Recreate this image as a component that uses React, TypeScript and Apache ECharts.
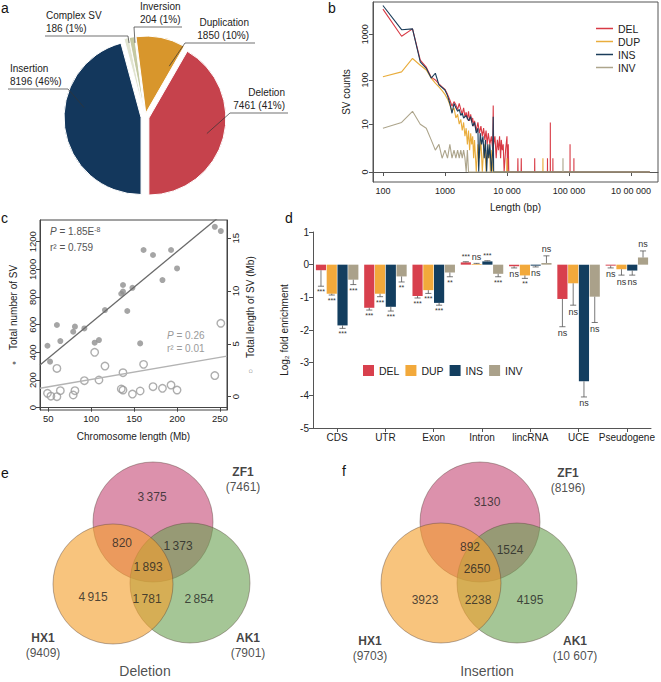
import React, { useEffect, useRef } from 'react';
import * as echarts from 'echarts';

const FONT = 'Liberation Sans, Arial, Helvetica, sans-serif';

// ---------------- a: pie ----------------
const pieNames = ['Insertion', 'Complex SV', 'Inversion', 'Duplication', 'Deletion'];
const pieValues = [8196, 186, 204, 1850, 7461];
const piePercents = ['46%', '1%', '1%', '10%', '41%'];
const pieColors = ['#13375c', '#e1e4d0', '#c4c9a2', '#d8962c', '#c6424c'];

// ---------------- b: length distribution ----------------
const svTypes = ['DEL', 'DUP', 'INS', 'INV'];
const lengthTicks = [100, 1000, 10000, 100000, 1000000];
const lengthTickLabels = ['100', '1000', '10 000', '100 000', '10 00 000'];
const countTicks = [0, 10, 100, 1000];

const delLengthCounts: [number, number][] = [
  [100, 3500], [200, 900], [300, 1300], [400, 270], [500, 190], [600, 115], [700, 100], [800, 82], [900, 70],
  [1000, 62], [1100, 48], [1200, 36], [1300, 26], [1400, 33], [1500, 28], [1600, 22], [1700, 30], [1800, 22],
  [1900, 17], [2000, 24], [2100, 15], [2200, 19], [2300, 13], [2400, 20], [2500, 12], [2600, 17], [2700, 11],
  [2800, 14], [2900, 9], [3000, 12], [3200, 7], [3400, 11], [3600, 6], [3800, 9], [4000, 5], [4200, 8],
  [4400, 4], [4600, 7], [4800, 3], [5000, 6], [5300, 3], [5600, 5], [5900, 2], [6000, 27], [6100, 3],
  [6400, 5], [6700, 1], [7000, 4], [7300, 2], [7600, 5], [7900, 1], [8100, 4], [8400, 2], [8700, 3],
  [9000, 0], [9500, 2], [10000, 5], [10200, 0], [10500, 3], [10700, 0], [14900, 0], [15000, 1], [15100, 0],
  [16900, 0], [17000, 1], [17100, 0], [27900, 0], [28000, 1], [28100, 0], [44900, 0], [45000, 1], [45100, 0],
  [49900, 0], [50000, 11], [50100, 0], [54900, 0], [55000, 1], [55100, 0], [103900, 0], [104000, 3],
  [104100, 0], [119900, 0], [120000, 1], [120100, 0], [2000000, 0],
];
const dupLengthCounts: [number, number][] = [
  [100, 117], [200, 150], [300, 295], [400, 210], [500, 165], [600, 110], [700, 85], [800, 70], [900, 58],
  [1000, 48], [1100, 38], [1200, 28], [1300, 20], [1400, 24], [1500, 14], [1600, 17], [1700, 10], [1800, 13],
  [1900, 7], [2000, 11], [2100, 5], [2200, 8], [2300, 3], [2400, 7], [2500, 2], [2600, 6], [2700, 3],
  [2800, 5], [2900, 1], [3000, 4], [3200, 0], [3400, 3], [3600, 1], [3800, 4], [4000, 0], [4200, 2],
  [4400, 3], [4600, 0], [4800, 2], [5000, 1], [5200, 3], [5400, 0], [5700, 2], [5900, 0], [9900, 0],
  [10000, 1], [10100, 0], [37900, 0], [38000, 1], [38100, 0], [2000000, 0],
];
const insLengthCounts: [number, number][] = [
  [100, 4200], [200, 1250], [300, 1300], [400, 250], [500, 180], [600, 110], [700, 140], [800, 78], [900, 68],
  [1000, 60], [1100, 45], [1200, 30], [1300, 18], [1400, 30], [1500, 24], [1600, 20], [1700, 22], [1800, 16],
  [1900, 18], [2000, 14], [2200, 16], [2400, 12], [2600, 15], [2800, 9], [3000, 11], [3200, 6], [3400, 8],
  [3500, 0], [3700, 6], [3900, 3], [4100, 5], [4300, 1], [4500, 4], [4700, 0], [4900, 3], [5100, 1],
  [5300, 3], [5600, 0], [5900, 2], [6000, 15], [6100, 0], [2000000, 0],
];
const invLengthCounts: [number, number][] = [
  [100, 8], [200, 11], [300, 20], [400, 10], [500, 8], [600, 4], [700, 2], [800, 3], [900, 1], [1000, 2],
  [1100, 1], [1200, 3], [1300, 1], [1400, 2], [1500, 1], [1600, 2], [1700, 1], [1800, 2], [1900, 1],
  [2000, 2], [2100, 1], [2200, 0], [2300, 2], [2400, 0], [79900, 0], [80000, 1], [80100, 0], [2000000, 0],
];
const lineColors = ['#d83a45', '#e9ad3d', '#1b3d5a', '#ada58c'];

// ---------------- c: scatter ----------------
const chrLengthA = [49, 52, 60, 64, 79, 81, 92, 104, 109, 116, 135, 137, 137, 142, 148, 157, 161, 172, 183, 193, 200, 244, 251];
const svNumber = [448, 333, 598, 482, 549, 586, 573, 470, 489, 706, 824, 887, 839, 699, 867, 465, 1140, 1104, 923, 1140, 1007, 1308, 1277];
const chrLengthB = [49, 53, 60, 60, 64, 79, 81, 92, 104, 109, 116, 135, 137, 137, 148, 157, 161, 172, 183, 193, 200, 244, 251];
const svTotalLength = [0.32, 0.05, 0.0, 2.68, 0.57, 0.16, 0.57, 1.52, 4.2, 1.58, 2.9, 0.73, 2.27, 0.63, 0.25, 0.54, 3.06, 0.95, 0.79, 1.1, 0.63, 2.0, 6.95];
const fitNumber = [[40.3, 309], [258.2, 1427]];
const fitLength = [[40.3, 0.8], [258.2, 3.85]];
const cXTicks = [50, 100, 150, 200, 250];
const cYTicks = [0, 200, 400, 600, 800, 1000, 1200];
const cY2Ticks = [0, 5, 10, 15];

// ---------------- d: enrichment ----------------
const features = ['CDS', 'UTR', 'Exon', 'Intron', 'lincRNA', 'UCE', 'Pseudogene'];
const enrichDEL = [-0.17, -1.32, -0.96, 0.07, -0.05, -1.05, -0.03];
const enrichDUP = [-0.89, -0.89, -0.78, 0.02, -0.33, -0.57, -0.14];
const enrichINS = [-1.86, -1.29, -1.17, 0.1, -0.03, -3.57, -0.18];
const enrichINV = [-0.46, -0.36, -0.24, -0.28, 0.05, -0.98, 0.22];
const errDEL = [0.49, 0.07, 0.06, 0.02, 0.05, 0.85, 0.07];
const errDUP = [0.04, 0.09, 0.1, 0.02, 0.09, 0.67, 0.18];
const errINS = [0.09, 0.13, 0.07, 0.02, 0.04, 0.48, 0.14];
const errINV = [0.15, 0.17, 0.13, 0.09, 0.22, 0.79, 0.2];
const sigDEL = ['***', '***', '***', '***', 'ns', 'ns', 'ns'];
const sigDUP = ['***', '***', '***', 'ns', '**', 'ns', 'ns'];
const sigINS = ['***', '***', '***', '***', 'ns', 'ns', 'ns'];
const sigINV = ['***', '**', '**', '***', 'ns', 'ns', 'ns'];
const barColors = ['#d8404d', '#f2a93b', '#133e5f', '#aaa18a'];

// ---------------- e/f: Venn ----------------
const vennSets = ['ZF1', 'HX1', 'AK1'];
const deletionRegions = [3375, 820, 1373, 1893, 4915, 1781, 2854];
const deletionTotals = [7461, 9409, 7901];
const insertionRegions = [3130, 892, 1524, 2650, 3923, 2238, 4195];
const insertionTotals = [8196, 9703, 10607];

// ---------------- layout (not data) ----------------
const PIE = { cx: 145, cy: 117, r: 77, explode: 4 };
// af: where along the slice the leader starts (fraction of its angle); rf: fraction of radius
const PIE_LABELS = [
  { x: 10, align: 'left', lineY: 89, bend: 68, end: 8, rf: 0.75, af: 0.6 },
  { x: 46, align: 'left', lineY: 36, bend: 128, end: 45, rf: 0.93, af: 0.8 },
  { x: 140, align: 'left', lineY: 27, bend: 134, end: 182, rf: 0.92, af: 0.9 },
  { x: 249, align: 'right', lineY: 43, bend: 185, end: 255, rf: 0.68, af: 0.88 },
  { x: 285, align: 'right', lineY: 113, bend: 230, end: 288, rf: 0.78, af: 0.5 },
];
const VENN_COLORS = ['rgba(196,72,117,0.6)', 'rgba(243,160,45,0.62)', 'rgba(105,160,80,0.6)'];
const VENN_DRAW_ORDER = [0, 2, 1];
const VENN_E = {
  circles: [[153, 522], [113, 584], [190, 583]],
  regions: [[152, 497], [122, 543], [178, 546], [148, 567], [93, 597], [147, 599], [199, 599]],
  setLabels: [[243, 479], [43, 645], [248, 645]],
  title: [145, 671],
};
const VENN_F = {
  circles: [[480, 522], [441, 583], [517, 583]],
  regions: [[487, 502], [470, 547], [510, 550], [477, 569], [425, 600], [478, 600], [530, 600]],
  setLabels: [[568, 480], [370, 648], [575, 648]],
  title: [487, 671],
};
const VENN_R = 60;

const thinGroup = (n: number) => (n >= 1000 ? String(n).replace(/\B(?=(\d{3})+(?!\d))/g, '\u2009') : String(n));
const totalFmt = (n: number) => (n >= 10000 ? String(n).replace(/\B(?=(\d{3})+(?!\d))/g, ' ') : String(n));

function buildOption() {
  const total = pieValues.reduce((a, b) => a + b, 0);
  const startAngles: number[] = [];
  const spans: number[] = [];
  let acc = 0;
  pieValues.forEach((v) => {
    startAngles.push(180 + (360 * acc) / total);
    spans.push((360 * v) / total);
    acc += v;
  });
  const innerPt = (i: number, rf: number, af: number) => {
    const a = ((startAngles[i] + spans[i] * af) * Math.PI) / 180;
    const r = PIE.r * rf + PIE.explode;
    return [PIE.cx + r * Math.sin(a), PIE.cy - r * Math.cos(a)];
  };

  const bData = [delLengthCounts, dupLengthCounts, insLengthCounts, invLengthCounts];
  const dVals = [enrichDEL, enrichDUP, enrichINS, enrichINV];
  const dErr = [errDEL, errDUP, errINS, errINV];
  const dSig = [sigDEL, sigDUP, sigINS, sigINV];

  const axisColor = '#444';
  const tickLbl = { color: '#222', fontSize: 9.5, fontFamily: FONT };

  const makeErr = (k: number) => (params: any, api: any) => {
    const ci = api.value(0);
    const v = api.value(1);
    const e = api.value(2);
    const catW = api.size([1, 0])[0];
    const barW = (catW * (1 - 0.12)) / (4 + 3 * 0.06);
    const x = api.coord([ci, 0])[0] + (k - 1.5) * barW * 1.06;
    const dir = v >= 0 ? 1 : -1;
    const y1 = api.coord([ci, v])[1];
    const y2 = api.coord([ci, v + dir * e])[1];
    const lab = dSig[k][ci];
    const cap = barW * 0.3;
    return {
      type: 'group',
      children: [
        { type: 'line', shape: { x1: x, y1, x2: x, y2 }, style: { stroke: '#555', lineWidth: 0.8 } },
        { type: 'line', shape: { x1: x - cap, y1: y2, x2: x + cap, y2 }, style: { stroke: '#555', lineWidth: 0.8 } },
        {
          type: 'text',
          x,
          y: y2 + dir * -2,
          style: {
            text: lab,
            fontSize: lab === 'ns' ? 9 : 7,
            fontFamily: FONT,
            fill: '#333',
            align: 'center',
            verticalAlign: dir < 0 ? 'top' : 'bottom',
          },
        },
      ],
    };
  };

  const vennSeries = (V: any, regions: number[], totals: number[], fmt: (n: number) => string, title: string) => {
    const s: any[] = [];
    VENN_DRAW_ORDER.forEach((ci) => {
      s.push({
        type: 'scatter',
        xAxisIndex: 3,
        yAxisIndex: 4,
        silent: true,
        symbol: 'circle',
        symbolSize: VENN_R * 2,
        data: [V.circles[ci]],
        itemStyle: { color: VENN_COLORS[ci], borderColor: 'rgba(90,70,60,0.55)', borderWidth: 0.8, opacity: 1 },
        z: 2,
      });
    });
    s.push({
      type: 'scatter',
      xAxisIndex: 3,
      yAxisIndex: 4,
      silent: true,
      symbolSize: 0,
      data: V.regions.map((p: number[], i: number) => ({ value: p, label: { formatter: fmt(regions[i]) } })),
      label: { show: true, position: 'inside', fontSize: 12, color: '#222', fontFamily: FONT },
      z: 5,
    });
    s.push({
      type: 'scatter',
      xAxisIndex: 3,
      yAxisIndex: 4,
      silent: true,
      symbolSize: 0,
      data: V.setLabels.map((p: number[], i: number) => ({
        value: p,
        label: { formatter: `{n|${vennSets[i]}}\n{t|(${totalFmt(totals[i])})}` },
      })),
      label: {
        show: true,
        position: 'inside',
        align: 'center',
        rich: {
          n: { fontSize: 12, fontWeight: 'bold', color: '#111', fontFamily: FONT, lineHeight: 15, align: 'center' },
          t: { fontSize: 12, color: '#222', fontFamily: FONT, lineHeight: 15, align: 'center' },
        },
      },
      z: 5,
    });
    s.push({
      type: 'scatter',
      xAxisIndex: 3,
      yAxisIndex: 4,
      silent: true,
      symbolSize: 0,
      data: [{ value: V.title, label: { formatter: title } }],
      label: { show: true, position: 'inside', fontSize: 14, color: '#222', fontFamily: FONT },
      z: 5,
    });
    return s;
  };

  const letter = (t: string, x: number, y: number) => ({
    type: 'text',
    x,
    y,
    style: { text: t, fontSize: 14, fontFamily: FONT, fill: '#111', align: 'left', verticalAlign: 'middle' },
  });

  const pieLabelGraphics: any[] = [];
  pieNames.forEach((n, i) => {
    const L = PIE_LABELS[i];
    pieLabelGraphics.push({
      type: 'polyline',
      silent: true,
      z: 10,
      shape: { points: [innerPt(i, L.rf, L.af), [L.bend, L.lineY], [L.end, L.lineY]] },
      style: { stroke: '#333', lineWidth: 0.7, fill: null },
    });
    pieLabelGraphics.push({
      type: 'text',
      silent: true,
      z: 10,
      x: L.x,
      y: L.lineY - 1.5,
      style: {
        text: `${n}\n${pieValues[i]} (${piePercents[i]})`,
        fontSize: 10,
        lineHeight: 12.5,
        fontFamily: FONT,
        fill: '#222',
        align: L.align,
        verticalAlign: 'bottom',
      },
    });
  });

  return {
    animation: false,
    textStyle: { fontFamily: FONT },
    grid: [
      { left: 373, top: 2, width: 285, height: 180, show: true, borderColor: '#555', borderWidth: 1 },
      { left: 40, top: 220, width: 187, height: 190, show: true, borderColor: axisColor, borderWidth: 1 },
      { left: 313, top: 232, width: 338, height: 196 },
      { left: 0, top: 440, width: 661, height: 242 },
    ],
    xAxis: [
      {
        gridIndex: 0,
        type: 'value',
        min: 1.84,
        max: 6.435,
        axisLine: { show: true, lineStyle: { color: '#555' } },
        axisTick: { show: true, length: 4, customValues: lengthTicks.map((v) => Math.log10(v)), lineStyle: { color: '#555' } },
        axisLabel: {
          ...tickLbl,
          fontSize: 9,
          margin: 4,
          customValues: lengthTicks.map((v) => Math.log10(v)),
          formatter: (v: number) => lengthTickLabels[Math.round(v) - 2] ?? '',
        },
        splitLine: { show: false },
        name: 'Length (bp)',
        nameLocation: 'middle',
        nameGap: 20,
        nameTextStyle: { fontSize: 10, color: '#222' },
      },
      {
        gridIndex: 1,
        type: 'value',
        min: 40.3,
        max: 258.2,
        axisLine: { show: true, lineStyle: { color: axisColor } },
        axisTick: { show: true, length: 4, customValues: cXTicks, lineStyle: { color: axisColor } },
        axisLabel: { ...tickLbl, margin: 3, customValues: cXTicks, formatter: (v: number) => String(v) },
        splitLine: { show: false },
        name: 'Chromosome length (Mb)',
        nameLocation: 'middle',
        nameGap: 21,
        nameTextStyle: { fontSize: 10, color: '#222' },
      },
      {
        gridIndex: 2,
        type: 'category',
        data: features,
        axisLine: { show: true, onZero: false, lineStyle: { color: '#555' } },
        axisTick: { show: true, alignWithLabel: true, length: 4, lineStyle: { color: '#555' } },
        axisLabel: { fontSize: 10, color: '#222', margin: 4, interval: 0 },
        splitLine: { show: false },
      },
      { gridIndex: 3, type: 'value', min: 0, max: 661, show: false },
    ],
    yAxis: [
      {
        gridIndex: 0,
        type: 'value',
        min: -0.217,
        max: 3.7,
        axisLine: { show: true, lineStyle: { color: '#555' } },
        axisTick: { show: true, length: 4, customValues: countTicks.map((c) => Math.log10(c + 1)), lineStyle: { color: '#555' } },
        axisLabel: {
          ...tickLbl,
          fontSize: 9,
          rotate: 90,
          margin: 4,
          customValues: countTicks.map((c) => Math.log10(c + 1)),
          formatter: (v: number) => String(countTicks[Math.round(v)] ?? ''),
        },
        splitLine: { show: false },
        name: 'SV counts',
        nameLocation: 'middle',
        nameRotate: 90,
        nameGap: 22,
        nameTextStyle: { fontSize: 10, color: '#222' },
      },
      {
        gridIndex: 1,
        type: 'value',
        min: -16.6,
        max: 1357,
        axisLine: { show: true, lineStyle: { color: axisColor } },
        axisTick: { show: true, length: 4, customValues: cYTicks, lineStyle: { color: axisColor } },
        axisLabel: { ...tickLbl, rotate: 90, margin: 3, customValues: cYTicks, formatter: (v: number) => String(v) },
        splitLine: { show: false },
        name: '{dot|\u25CF}    Total number of SV',
        nameLocation: 'middle',
        nameRotate: 90,
        nameGap: 22,
        nameTextStyle: { fontSize: 10, color: '#222', rich: { dot: { fontSize: 7, color: '#777' } } },
      },
      {
        gridIndex: 1,
        type: 'value',
        position: 'right',
        min: -1.26,
        max: 16.73,
        axisLine: { show: true, lineStyle: { color: axisColor } },
        axisTick: { show: true, length: 4, customValues: cY2Ticks, lineStyle: { color: axisColor } },
        axisLabel: { ...tickLbl, rotate: 90, margin: 3, customValues: cY2Ticks, formatter: (v: number) => String(v) },
        splitLine: { show: false },
        name: '{dot|\u25CB}    Total length of SV (Mb)',
        nameLocation: 'middle',
        nameRotate: 90,
        nameGap: 18,
        nameTextStyle: { fontSize: 10, color: '#222', rich: { dot: { fontSize: 8, color: '#777' } } },
      },
      {
        gridIndex: 2,
        type: 'value',
        min: -5,
        max: 1,
        interval: 1,
        axisLine: { show: true, lineStyle: { color: '#555' } },
        axisTick: { show: true, length: 4, lineStyle: { color: '#555' } },
        axisLabel: { fontSize: 10, color: '#222', margin: 4 },
        splitLine: { show: false },
        name: 'Log\u2082 fold enrichment',
        nameLocation: 'middle',
        nameRotate: 90,
        nameGap: 18,
        nameTextStyle: { fontSize: 10, color: '#222' },
      },
      { gridIndex: 3, type: 'value', min: 440, max: 682, inverse: true, show: false },
    ],
    legend: [
      {
        data: svTypes.map((t) => 'b-' + t),
        formatter: (n: string) => n.slice(2),
        left: 591,
        top: 18,
        orient: 'vertical',
        icon: 'rect',
        itemWidth: 17,
        itemHeight: 1.5,
        itemGap: 2,
        selectedMode: false,
        textStyle: { fontSize: 10.5, color: '#222', lineHeight: 11 },
      },
      {
        data: svTypes,
        left: 358,
        top: 360,
        orient: 'horizontal',
        icon: 'rect',
        itemWidth: 11,
        itemHeight: 11,
        itemGap: 6,
        selectedMode: false,
        textStyle: { fontSize: 10.5, color: '#222' },
      },
    ],
    series: [
      {
        type: 'pie',
        center: [PIE.cx, PIE.cy],
        radius: PIE.r,
        startAngle: 270,
        clockwise: true,
        selectedMode: 'multiple',
        selectedOffset: PIE.explode,
        avoidLabelOverlap: false,
        silent: true,
        itemStyle: { borderColor: '#fff', borderWidth: 1 },
        label: { show: false },
        labelLine: { show: false },
        data: pieNames.map((n, i) => ({ name: n, value: pieValues[i], selected: true, itemStyle: { color: pieColors[i] } })),
      },
      ...svTypes.map((t, i) => ({
        type: 'line',
        name: 'b-' + t,
        xAxisIndex: 0,
        yAxisIndex: 0,
        silent: true,
        symbol: 'none',
        showSymbol: false,
        data: bData[i].map(([l, c]) => [Math.log10(l), Math.log10(c + 1)]),
        lineStyle: { width: 1.1, color: lineColors[i] },
        itemStyle: { color: lineColors[i] },
      })),
      {
        type: 'line',
        xAxisIndex: 1,
        yAxisIndex: 1,
        silent: true,
        symbol: 'none',
        data: fitNumber,
        lineStyle: { color: '#6a6a6a', width: 1.3 },
      },
      {
        type: 'line',
        xAxisIndex: 1,
        yAxisIndex: 2,
        silent: true,
        symbol: 'none',
        data: fitLength,
        lineStyle: { color: '#b3b3b3', width: 1.3 },
      },
      {
        type: 'scatter',
        xAxisIndex: 1,
        yAxisIndex: 1,
        silent: true,
        symbolSize: 6,
        data: chrLengthA.map((x, i) => [x, svNumber[i]]),
        itemStyle: { color: '#8f8f8f' },
      },
      {
        type: 'scatter',
        xAxisIndex: 1,
        yAxisIndex: 2,
        silent: true,
        symbolSize: 7.5,
        data: chrLengthB.map((x, i) => [x, svTotalLength[i]]),
        itemStyle: { color: 'rgba(255,255,255,0)', borderColor: '#9a9a9a', borderWidth: 1.4 },
      },
      ...svTypes.map((t, i) => ({
        type: 'bar',
        name: t,
        xAxisIndex: 2,
        yAxisIndex: 3,
        silent: true,
        barGap: '6%',
        barCategoryGap: '12%',
        data: dVals[i],
        itemStyle: { color: barColors[i] },
      })),
      ...svTypes.map((t, k) => ({
        type: 'custom',
        xAxisIndex: 2,
        yAxisIndex: 3,
        silent: true,
        clip: false,
        z: 3,
        data: dVals[k].map((v, ci) => [ci, v, dErr[k][ci]]),
        renderItem: makeErr(k),
      })),
      ...vennSeries(VENN_E, deletionRegions, deletionTotals, thinGroup, 'Deletion'),
      ...vennSeries(VENN_F, insertionRegions, insertionTotals, (n) => String(n), 'Insertion'),
    ],
    graphic: [
      ...pieLabelGraphics,
      letter('a', 1, 8),
      letter('b', 328, 8),
      letter('c', 1, 218),
      letter('d', 285, 218),
      letter('e', 1, 473),
      letter('f', 342, 471),
      {
        type: 'text',
        x: 50,
        y: 231,
        style: {
          text: '{i|P} = 1.85E{s|-8}',
          fontSize: 10,
          fontFamily: FONT,
          fill: '#555',
          verticalAlign: 'middle',
          rich: {
            i: { fontStyle: 'italic', fontSize: 10, fill: '#555' },
            s: { fontSize: 7, verticalAlign: 'top', fill: '#555' },
          },
        },
      },
      {
        type: 'text',
        x: 50,
        y: 247,
        style: { text: 'r\u00B2 = 0.759', fontSize: 10, fontFamily: FONT, fill: '#555', verticalAlign: 'middle' },
      },
      {
        type: 'text',
        x: 167,
        y: 335,
        style: {
          text: '{i|P} = 0.26',
          fontSize: 10,
          fontFamily: FONT,
          fill: '#9a9a9a',
          verticalAlign: 'middle',
          rich: { i: { fontStyle: 'italic', fontSize: 10, fill: '#9a9a9a' } },
        },
      },
      {
        type: 'text',
        x: 167,
        y: 348,
        style: { text: 'r\u00B2 = 0.01', fontSize: 10, fontFamily: FONT, fill: '#9a9a9a', verticalAlign: 'middle' },
      },
    ],
  };
}

export default function App() {
  const ref = useRef<HTMLDivElement>(null);
  useEffect(() => {
    document.body.style.margin = '0';
    const chart = echarts.init(ref.current!, null, { renderer: 'svg' });
    chart.setOption(buildOption() as any);
    return () => chart.dispose();
  }, []);
  return <div ref={ref} style={{ width: 661, height: 682 }} />;
}
